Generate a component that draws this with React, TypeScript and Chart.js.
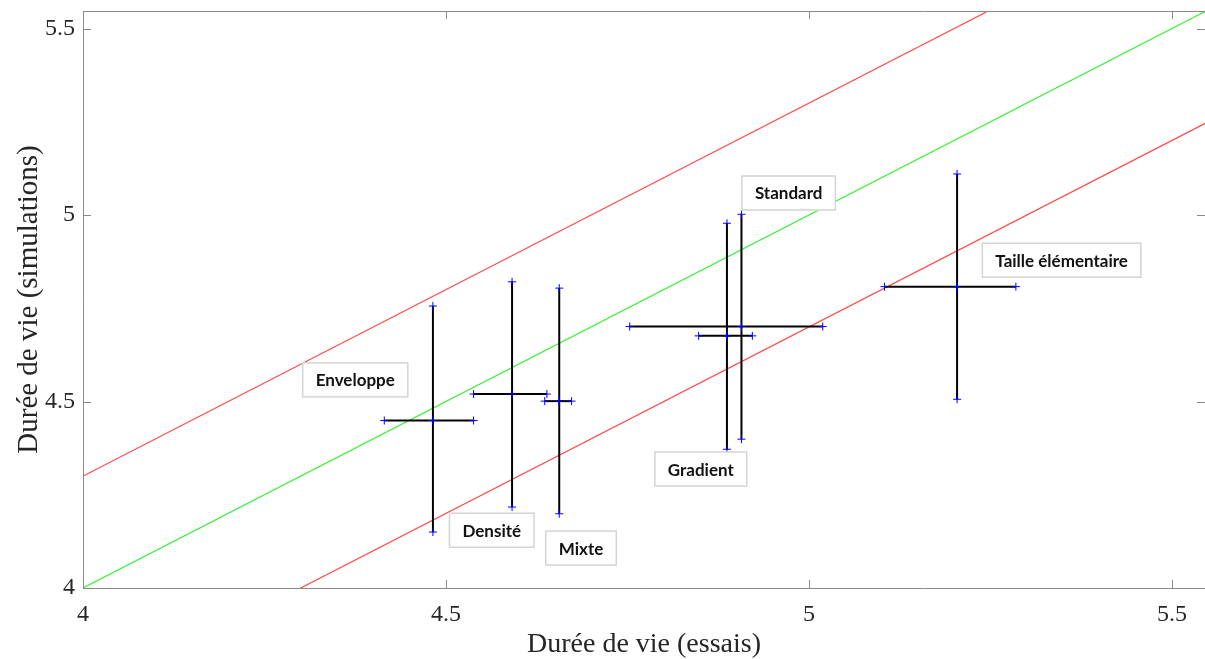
import React, { useEffect, useRef } from "react";
import { Chart, registerables } from "chart.js";

Chart.register(...registerables);

// ---- data ----
const methods = ["Enveloppe", "Densité", "Mixte", "Gradient", "Standard", "Taille élémentaire"];
const essaisMean = [4.482, 4.591, 4.656, 4.887, 4.907, 5.204];
const essaisLow = [4.415, 4.538, 4.636, 4.848, 4.753, 5.104];
const essaisHigh = [4.538, 4.639, 4.673, 4.922, 5.019, 5.285];
const simMean = [4.449, 4.520, 4.501, 4.676, 4.701, 4.808];
const simLow = [4.150, 4.217, 4.199, 4.372, 4.399, 4.506];
const simHigh = [4.756, 4.821, 4.804, 4.978, 5.002, 5.110];
// label anchors (data coordinates)
const labelX = [4.375, 4.563, 4.686, 4.851, 4.972, 5.348];
const labelY = [4.558, 4.155, 4.107, 4.319, 5.059, 4.879];
// reference lines: y = x, y = x + 0.3, y = x - 0.3
const refX = [3.9, 5.7];
const refIdentityY = [3.9, 5.7];
const refUpperY = [4.2, 6.0];
const refLowerY = [3.6, 5.4];
// axes
const xTickValues = [4, 4.5, 5, 5.5];
const yTickValues = [4, 4.5, 5, 5.5];
const xMin = 4, xMax = 5.5455;
const yMin = 4, yMax = 5.547;
const xTitle = "Durée de vie (essais)";
const yTitle = "Durée de vie (simulations)";

const AXIS_GREY = "#8a8a8a";

const framePlugin = {
  id: "frameTicks",
  afterDraw(chart: any) {
    const { ctx, chartArea } = chart;
    const { left, right, top, bottom } = chartArea;
    const xs = chart.scales.x;
    const ys = chart.scales.y;
    ctx.save();
    ctx.strokeStyle = AXIS_GREY;
    ctx.lineWidth = 1;
    ctx.beginPath();
    ctx.moveTo(left + 0.5, top + 0.5);
    ctx.lineTo(right, top + 0.5);
    ctx.moveTo(left + 0.5, top);
    ctx.lineTo(left + 0.5, bottom + 0.5);
    ctx.lineTo(right, bottom + 0.5);
    const tl = 8;
    xTickValues.forEach((v) => {
      const px = Math.round(xs.getPixelForValue(v)) + 0.5;
      ctx.moveTo(px, bottom);
      ctx.lineTo(px, bottom - tl);
      ctx.moveTo(px, top);
      ctx.lineTo(px, top + tl);
    });
    yTickValues.forEach((v) => {
      const py = Math.round(ys.getPixelForValue(v)) + 0.5;
      ctx.moveTo(left, py);
      ctx.lineTo(left + tl, py);
      ctx.moveTo(right, py);
      ctx.lineTo(right - tl, py);
    });
    ctx.stroke();
    ctx.restore();
  },
};

const labelPlugin = {
  id: "methodLabels",
  afterDatasetsDraw(chart: any) {
    const { ctx } = chart;
    const xs = chart.scales.x;
    const ys = chart.scales.y;
    ctx.save();
    ctx.font = "bold 17px Lato";
    ctx.textAlign = "center";
    ctx.textBaseline = "middle";
    methods.forEach((m, i) => {
      const cx = xs.getPixelForValue(labelX[i]);
      const cy = ys.getPixelForValue(labelY[i]);
      const w = ctx.measureText(m).width + 26;
      const h = 34;
      ctx.fillStyle = "#ffffff";
      ctx.fillRect(cx - w / 2, cy - h / 2, w, h);
      ctx.strokeStyle = "#d4d4d4";
      ctx.lineWidth = 1.5;
      ctx.strokeRect(cx - w / 2, cy - h / 2, w, h);
      ctx.fillStyle = "#111111";
      ctx.fillText(m, cx, cy + 1);
    });
    ctx.restore();
  },
};

export default function App() {
  const ref = useRef<HTMLCanvasElement | null>(null);
  useEffect(() => {
    if (!ref.current) return;
    const barStyle = {
      type: "scatter" as const,
      showLine: true,
      borderColor: "#000000",
      borderWidth: 2,
      pointStyle: "cross",
      pointRadius: 4,
      pointBorderColor: "#0000ff",
      pointBackgroundColor: "#0000ff",
      pointBorderWidth: 1,
      order: 0,
    };
    const datasets: any[] = [];
    methods.forEach((m, i) => {
      datasets.push({
        ...barStyle,
        label: m + " (essais)",
        data: [
          { x: essaisLow[i], y: simMean[i] },
          { x: essaisMean[i], y: simMean[i] },
          { x: essaisHigh[i], y: simMean[i] },
        ],
      });
      datasets.push({
        ...barStyle,
        label: m + " (simulations)",
        data: [
          { x: essaisMean[i], y: simLow[i] },
          { x: essaisMean[i], y: simMean[i] },
          { x: essaisMean[i], y: simHigh[i] },
        ],
      });
    });
    const refStyle = {
      type: "scatter" as const,
      showLine: true,
      borderWidth: 1.2,
      pointRadius: 0,
      order: 5,
    };
    datasets.push({
      ...refStyle,
      label: "y = x",
      borderColor: "#3cf03c",
      data: refX.map((x, k) => ({ x, y: refIdentityY[k] })),
    });
    datasets.push({
      ...refStyle,
      label: "y = x + 0.3",
      borderColor: "#ff4a4a",
      data: refX.map((x, k) => ({ x, y: refUpperY[k] })),
    });
    datasets.push({
      ...refStyle,
      label: "y = x - 0.3",
      borderColor: "#ff4a4a",
      data: refX.map((x, k) => ({ x, y: refLowerY[k] })),
    });

    const tickFont = { family: "'Liberation Serif', 'Times New Roman', serif", size: 24 };
    const xTitleFont = { family: "'Liberation Serif', 'Times New Roman', serif", size: 28, lineHeight: 1 };
    const yTitleFont = { family: "'Liberation Serif', 'Times New Roman', serif", size: 29, lineHeight: 1 };
    const zeroPad = (scale: any) => {
      scale.paddingLeft = 0;
      scale.paddingRight = 0;
      scale.paddingTop = 0;
      scale.paddingBottom = 0;
    };

    const chart = new Chart(ref.current, {
      type: "scatter",
      data: { datasets },
      options: {
        animation: false,
        responsive: false,
        devicePixelRatio: 1,
        layout: { autoPadding: false, padding: { top: 11, right: 0, left: 0, bottom: 0 } },
        plugins: {
          legend: { display: false },
          tooltip: { enabled: false },
        },
        elements: { line: { tension: 0 } },
        scales: {
          x: {
            type: "linear",
            min: xMin,
            max: xMax,
            grid: { display: false, drawTicks: false },
            border: { display: false },
            ticks: {
              includeBounds: false,
              padding: 12,
              color: "#262626",
              font: tickFont,
              maxRotation: 0,
              autoSkip: false,
              callback: (v: any) => String(v),
            },
            afterBuildTicks: (scale: any) => {
              scale.ticks = xTickValues.map((v) => ({ value: v }));
            },
            afterFit: (scale: any) => {
              scale.height = 71;
              zeroPad(scale);
            },
            title: {
              display: true,
              text: xTitle,
              color: "#262626",
              font: xTitleFont,
              padding: { top: 0, bottom: 0 },
            },
          },
          y: {
            type: "linear",
            min: yMin,
            max: yMax,
            grid: { display: false, drawTicks: false },
            border: { display: false },
            ticks: {
              includeBounds: false,
              padding: 8,
              color: "#262626",
              font: tickFont,
              autoSkip: false,
              callback: (v: any) => String(v),
            },
            afterBuildTicks: (scale: any) => {
              scale.ticks = yTickValues.map((v) => ({ value: v }));
            },
            afterFit: (scale: any) => {
              scale.width = 83;
              zeroPad(scale);
            },
            title: {
              display: true,
              text: yTitle,
              color: "#262626",
              font: yTitleFont,
              padding: { top: 15, bottom: 0 },
            },
          },
        },
      },
      plugins: [framePlugin, labelPlugin],
    } as any);
    return () => chart.destroy();
  }, []);

  return (
    <div style={{ position: "absolute", left: 0, top: 0, width: 1205, height: 659, background: "#ffffff" }}>
      <canvas ref={ref} width={1205} height={659} style={{ display: "block" }} />
    </div>
  );
}
